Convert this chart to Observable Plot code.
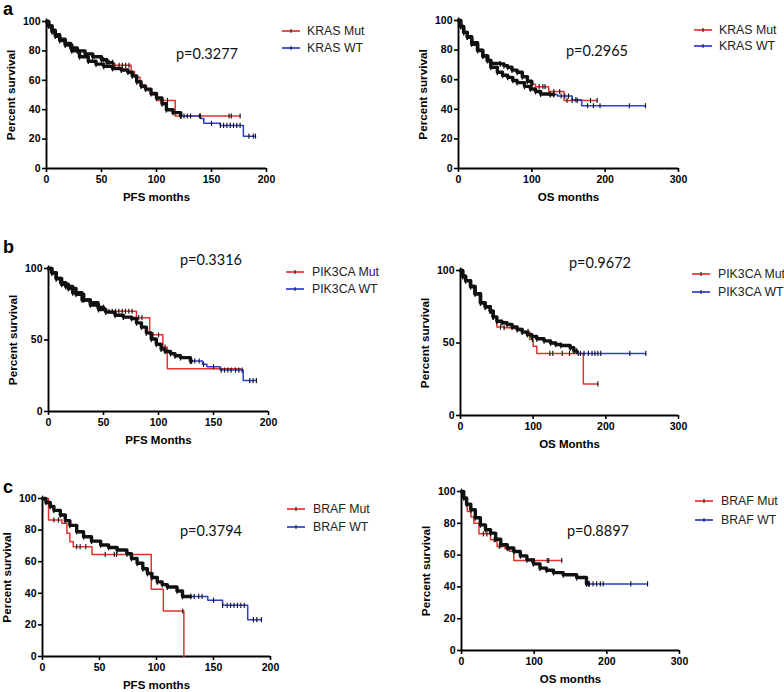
<!DOCTYPE html>
<html>
<head>
<meta charset="utf-8">
<script src="https://cdn.jsdelivr.net/npm/d3@7"></script>
<script src="https://cdn.jsdelivr.net/npm/@observablehq/plot@0.6"></script>
<style>
  html, body { margin: 0; padding: 0; background: #fff; }
  #fig { position: relative; width: 784px; height: 692px; overflow: hidden; background: #fff; font-family: "Liberation Sans", Arial, sans-serif; }
  .abs { position: absolute; white-space: nowrap; }
  .letter { font-weight: bold; font-size: 18px; line-height: 18px; color: #000; }
  .pval { font-family: Lato, "Open Sans", sans-serif; font-size: 14.5px; color: #111; transform: translate(-50%, -50%); }
  .leg { font-size: 12.3px; color: #222; transform: translateY(-50%); }
</style>
</head>
<body>
<div id="fig"></div>
<script>
// ---------- data ----------
const genes = ["KRAS", "PIK3CA", "BRAF"];
const panelLetters = ["a", "b", "c"];
const pfsLabels = ["PFS months", "PFS Months", "PFS months"];
const osLabels = ["OS months", "OS Months", "OS months"];
const pfsPValues = ["p=0.3277", "p=0.3316", "p=0.3794"];
const osPValues = ["p=0.2965", "p=0.9672", "p=0.8897"];
const legendLabels = [["KRAS Mut", "KRAS WT"], ["PIK3CA Mut", "PIK3CA WT"], ["BRAF Mut", "BRAF WT"]];
const pfsTicks = [0, 50, 100, 150, 200];
const osTicks = [0, 100, 200, 300];
const yTicksFine = [0, 20, 40, 60, 80, 100];
const yTicksCoarse = [0, 50, 100];

// Kaplan-Meier steps: [months, percent survival]
const krasPfsMut = [[0,100],[2,97],[5,94],[8,91],[12,88],[17,85],[22,82],[28,80],[35,78],[42,76],[50,74],[55,72],[61,70.2],[77,66],[80,62],[85,57],[90,53],[95,50],[100,46.3],[117,35.7],[176,35.7]];
const krasPfsWt = [[0,100],[2,97],[5,93],[8,90],[12,87],[17,84],[23,80],[30,76],[38,73],[45,71],[52,69.5],[60,68],[68,67],[74,65.5],[78,63],[82,59],[86,56],[90,54],[95,51],[100,48],[105,44],[109,40],[115,38],[122,35.7],[140,34],[143,30.7],[158,29.3],[179,22],[190,22]];
const krasOsMut = [[0,100],[3,96],[7,92],[12,89],[18,85],[26,80],[33,76],[40,73],[44,71],[57,70.7],[62,69.5],[67,68.4],[73,66.5],[80,65],[87,62],[94,59],[100,57],[105,55.3],[123,52],[144,46],[189,46]];
const krasOsWt = [[0,100],[3,96],[7,92],[12,88.7],[18,84],[26,79.7],[33,76],[39,73],[44,68.4],[53,65],[60,63],[67,61.6],[74,59.5],[80,58],[90,55.5],[98,53.7],[105,52],[112,50.3],[125,50],[135,49],[155,46.5],[168,42.4],[255,42.4]];
const pik3caPfsMut = [[0,100],[3,97],[7,93],[12,89],[18,86],[25,82],[32,78],[38,76],[45,72.7],[51.5,70.1],[80,65.6],[92,53.6],[104,45],[108,29.9],[175,29.9]];
const pik3caPfsWt = [[0,100],[3,97],[7,93],[11,90],[15.6,87.4],[22,83],[30.5,78],[38,74.5],[45.5,71.3],[52,69.5],[60.5,67.3],[68,66],[75.5,65],[80,62],[84.5,59],[89,55],[93.4,50.7],[98,47],[102.4,43.6],[106,42],[111,40.5],[115,39],[120,37.7],[129,35.3],[140,33],[144,31.3],[156,29],[177,21.6],[189,21.6]];
const pik3caOsMut = [[0,100],[3,96],[7,93],[13.8,89],[20,84],[27.5,77.7],[34,75],[41,72],[45,68],[50,61],[60,60.5],[70,60],[85,58],[95,52.4],[100,47.8],[105,42.8],[169,21.8],[189,21.8]];
const pik3caOsWt = [[0,100],[3,96],[7,93],[13.8,89],[20,84],[27.5,77.7],[34,75],[41,72],[45,68],[50,65],[57,64],[64,62.8],[71,61],[78,59.3],[85,57.5],[92,55.9],[98,54.5],[105,52.9],[115,51.5],[124,50],[131,49],[138,48.3],[151,46.7],[156,44.4],[160.5,42.8],[255,42.8]];
const brafPfsMut = [[0,100],[5.3,86.4],[17,84.3],[21.4,78],[24,72.7],[27,69.5],[43.5,64.6],[95.4,42.6],[106,28.8],[124,0]];
const brafPfsWt = [[0,100],[3,97.5],[6.8,95],[10,92.5],[15.6,89.6],[20,86],[24,83],[30,79],[36,75.8],[43,73],[51,70.6],[58,69],[65.5,67.4],[74,65],[78,62],[83,59],[88,55.5],[92,52.5],[96,50],[100.7,47.2],[105,45.5],[109.5,44],[118,41.5],[122.8,38],[145,35.6],[158,32.4],[180,23.3],[192,23.3]];
const brafOsMut = [[0,100],[4,95],[8,87.4],[13,84],[17,80],[24,73.4],[40,69.6],[49,65.4],[60,64],[66,62.5],[72,56.6],[138,56.6]];
const brafOsWt = [[0,100],[3,96],[7,92],[12.8,88.5],[19,83.5],[26,79],[33,76],[40,73.8],[47,70],[54,66.5],[63,64.5],[72,62.3],[81,59.5],[90,57],[99,54.5],[108,51.8],[117,50.5],[126.6,49],[140,47.6],[158.5,45.9],[172,41.9],[256,41.9]];

// censored times (sparse tick marks)
const krasPfsMutCens = [52,57,62,66,69,72,75,110,140,166,168,176];
const krasPfsWtCens = [125,128,131,139,150,158,161,164,167,170,173,176,184,188,190];
const krasOsMutCens = [110,115,118,130,138,148,155,162,180,189];
const krasOsWtCens = [140,145,150,160,176,184,193,233,255];
const pik3caPfsMutCens = [55,58,61,64,67,70,73,76,82,85,95,100,106];
const pik3caPfsWtCens = [133,137,141,150,157,160,163,166,170,173,176,183,186,189];
const pik3caOsMutCens = [55,60,93,99,123,127,140,150,162,189];
const pik3caOsWtCens = [165,170,176,181,185,189,193,233,255];
const brafPfsMutCens = [10,14,30,33,38,55,63,65,123];
const brafPfsWtCens = [133,137,140,150,158,162,165,168,171,174,177,185,188,192];
const brafOsMutCens = [30,35,45,52,64,97,100,118,120,138];
const brafOsWtCens = [176,181,186,191,195,233,256];

// months up to which censor marks are so dense the curve looks black
const denseMut = [60, 100, 50, 45, 0, 0];
const denseWt = [122, 130, 130, 160, 130, 175];

// ---------- drawing ----------
const RED = "#e4322f", BLUE = "#2c3dcc", INK = "#111";
const vbar = { draw(ctx, size) { const h = Math.sqrt(size / Math.PI); ctx.moveTo(0, -h); ctx.lineTo(0, h); } };
const fig = document.getElementById("fig");

function add(el, cls, x, y, text) {
  const d = document.createElement("div");
  d.className = "abs " + cls;
  d.style.left = x + "px"; d.style.top = y + "px";
  d.textContent = text;
  fig.appendChild(d);
  return d;
}

function legend(x, yMut, yWt, textX, labels) {
  [[yMut, RED, labels[0]], [yWt, BLUE, labels[1]]].forEach(([y, c, lab]) => {
    const s = d3.create("svg").attr("width", 18).attr("height", 8)
      .style("position", "absolute").style("left", x + "px").style("top", (y - 4) + "px");
    s.append("line").attr("x1", 0).attr("x2", 18).attr("y1", 4).attr("y2", 4).attr("stroke", c).attr("stroke-width", 1.7);
    s.append("line").attr("x1", 9).attr("x2", 9).attr("y1", 2).attr("y2", 6).attr("stroke", INK).attr("stroke-width", 1);
    fig.appendChild(s.node());
    add(fig, "leg", textX, y, lab);
  });
}

function panel(o) {
  const mL = 44, mR = 12, mT = 10, mB = 42;
  const width = o.right - o.left + mL + mR;
  const height = o.bottom - o.top + mT + mB;
  const toObj = arr => arr.map(([t, s]) => ({ t, s }));
  const M = toObj(o.mut), W = toObj(o.wt);
  const at = (curve, t) => { let s = curve[0].s; for (const d of curve) if (d.t <= t) s = d.s; return s; };
  const cens = (curve, ts) => ts.map(t => ({ t, s: at(curve, t) }));
  const dense = (curve, until) => until > 0 ? curve.filter(d => d.t <= until).concat([{ t: until, s: at(curve, until) }]) : [];
  const mDense = dense(M, o.mutDense);
  const wDense = dense(W, o.wtDense);
  const chart = Plot.plot({
    width, height, marginLeft: mL, marginRight: mR, marginTop: mT, marginBottom: mB,
    x: { domain: [0, o.xMax] },
    y: { domain: [0, 100] },
    style: { fontFamily: "'Liberation Sans', Arial, sans-serif", fontSize: "10.5px", fontWeight: "bold", color: "#000", background: "transparent", overflow: "visible" },
    marks: [
      Plot.axisX({ ticks: o.xTicks, tickSize: 4, tickPadding: 3, label: null, strokeWidth: 1.6 }),
      Plot.axisY({ ticks: o.yTicks, tickSize: 4, tickPadding: 2, label: null, strokeWidth: 1.6 }),
      Plot.ruleY([0], { stroke: "#000", strokeWidth: 1.9 }),
      Plot.ruleX([0], { stroke: "#000", strokeWidth: 1.9 }),
      Plot.line(M, { x: "t", y: "s", curve: "step-after", stroke: RED, strokeWidth: 1.5 }),
      Plot.line(W, { x: "t", y: "s", curve: "step-after", stroke: BLUE, strokeWidth: 1.5 }),
      Plot.line(mDense, { x: "t", y: "s", curve: "step-after", stroke: INK, strokeWidth: 3.4 }),
      Plot.line(wDense, { x: "t", y: "s", curve: "step-after", stroke: INK, strokeWidth: 3.4 }),
      Plot.dot(mDense.concat(wDense), { x: "t", y: "s", symbol: vbar, r: 2.9, stroke: INK, strokeWidth: 1.3 }),
      Plot.dot(cens(M, o.mutCens), { x: "t", y: "s", symbol: vbar, r: 2.6, stroke: INK, strokeWidth: 1.1 }),
      Plot.dot(cens(W, o.wtCens), { x: "t", y: "s", symbol: vbar, r: 2.6, stroke: INK, strokeWidth: 1.1 }),
      Plot.text([o.xLabel], { frameAnchor: "bottom", dy: 29, lineAnchor: "middle", textAnchor: "middle", fontSize: 11.5, fontWeight: "bold" }),
      Plot.text(["Percent survival"], { frameAnchor: "left", rotate: -90, dx: -35, lineAnchor: "middle", textAnchor: "middle", fontSize: 11.7, fontWeight: "bold" })
    ]
  });
  chart.style.position = "absolute";
  chart.style.left = (o.left - mL) + "px";
  chart.style.top = (o.top - mT) + "px";
  fig.appendChild(chart);
}

// panel geometry (pixel frame of each plot area)
const geom = [
  { left: 46, right: 266, top: 21, bottom: 168 },
  { left: 458, right: 678, top: 20, bottom: 168 },
  { left: 48, right: 268, top: 268, bottom: 411 },
  { left: 460, right: 678, top: 270, bottom: 415 },
  { left: 42, right: 270, top: 498, bottom: 656 },
  { left: 461, right: 679, top: 491, bottom: 650 }
];
const curves = [
  [krasPfsMut, krasPfsWt, krasPfsMutCens, krasPfsWtCens],
  [krasOsMut, krasOsWt, krasOsMutCens, krasOsWtCens],
  [pik3caPfsMut, pik3caPfsWt, pik3caPfsMutCens, pik3caPfsWtCens],
  [pik3caOsMut, pik3caOsWt, pik3caOsMutCens, pik3caOsWtCens],
  [brafPfsMut, brafPfsWt, brafPfsMutCens, brafPfsWtCens],
  [brafOsMut, brafOsWt, brafOsMutCens, brafOsWtCens]
];
const pPos = [[207, 53], [597, 50], [211, 259], [600, 262], [211, 530], [598, 530]];
const legPos = [[282, 31, 48, 307], [694, 30, 46, 719], [286, 272, 289, 312], [692, 274, 292, 718], [287, 509, 527, 313], [695, 501, 520, 721]];
const letterPos = [[3, 0], [3, 238], [3, 478]];

for (let i = 0; i < 6; i++) {
  const row = Math.floor(i / 2), isOS = i % 2 === 1;
  const [mut, wt, mutCens, wtCens] = curves[i];
  panel({
    ...geom[i], mut, wt, mutCens, wtCens,
    mutDense: denseMut[i], wtDense: denseWt[i],
    xMax: isOS ? 300 : 200,
    xTicks: isOS ? osTicks : pfsTicks,
    yTicks: row === 1 ? yTicksCoarse : yTicksFine,
    xLabel: isOS ? osLabels[row] : pfsLabels[row]
  });
  add(fig, "pval", pPos[i][0], pPos[i][1], isOS ? osPValues[row] : pfsPValues[row]);
  legend(legPos[i][0], legPos[i][1], legPos[i][2], legPos[i][3], legendLabels[row]);
}
panelLetters.forEach((l, r) => add(fig, "letter", letterPos[r][0], letterPos[r][1], l));
</script>
</body>
</html>
